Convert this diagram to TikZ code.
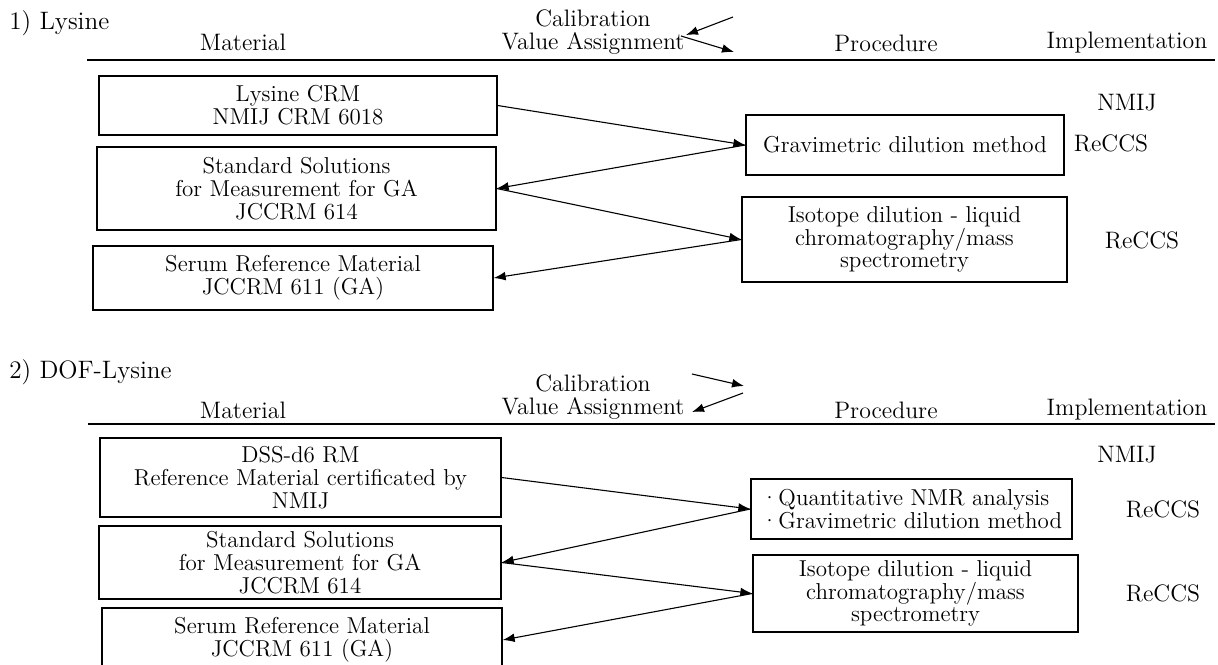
\documentclass[tikz,border=0pt]{standalone}
\usetikzlibrary{arrows.meta}
\begin{document}
\begin{tikzpicture}[x=0.5pt,y=-0.5pt,
  txt/.style={font=\fontsize{11.5}{11.4}\selectfont, inner sep=0pt, align=center},
  head/.style={font=\fontsize{11.9}{11.6}\selectfont, inner sep=0pt, align=center},
  title/.style={font=\fontsize{12.6}{13}\selectfont, inner sep=0pt, anchor=west},
  box/.style 2 args={draw, line width=0.65pt, fill=white, txt, minimum width=#1, minimum height=#2},
  conn/.style={-{Latex[length=6pt,width=4.4pt]}, line width=0.55pt},
  rule/.style={line width=0.65pt}]
\useasboundingbox (0,0) rectangle (1218,664);
\fill[white] (0,0) rectangle (1218,664);

% ---------- Section 1 ----------
\node[title] (t1) at (9,23) {1) Lysine};
\node[head] (m1) at (243,42) {Material};
\node[head] (c1) at (593,32) {Calibration\\Value Assignment};
\node[head] (p1) at (886,43) {Procedure};
\node[head] (im1) at (1127,43) {Implementation};
\draw[rule] (87,60) -- (1215,60);
\coordinate (la1) at (733,17);
\coordinate (la2) at (686,35);
\coordinate (lb1) at (681,36);
\coordinate (lb2) at (734,52);
\draw[conn] (la1) -- (la2);
\draw[conn] (lb1) -- (lb2);

\node[box={199pt}{29.5pt}] (L1) at (298,105.5) {Lysine CRM\\NMIJ CRM 6018};
\node[box={199.5pt}{41.5pt}] (S1) at (296.5,188.5) {Standard Solutions\\for Measurement for GA\\JCCRM 614};
\node[box={200pt}{32pt}] (R1) at (293,278) {Serum Reference Material\\JCCRM 611 (GA)};
\node[box={159pt}{30pt}] (G1) at (905,145) {Gravimetric dilution method};
\node[box={162.5pt}{42.5pt}] (I1) at (904.5,239.5) {Isotope dilution - liquid\\chromatography/mass\\spectrometry};

\node[head] (n1) at (1127,103) {NMIJ};
\node[head] (r1a) at (1111,143) {ReCCS};
\node[head] (r1b) at (1142,240) {ReCCS};

\draw[conn] (L1.east) -- (G1.west);
\draw[conn] (G1.west) -- (S1.east);
\draw[conn] (S1.east) -- (I1.west);
\draw[conn] (I1.west) -- (R1.east);

% ---------- Section 2 ----------
\node[title] (t2) at (9,372) {2) DOF-Lysine};
\node[head] (m2) at (243,410) {Material};
\node[head] (c2) at (593,397) {Calibration\\Value Assignment};
\node[head] (p2) at (886,410) {Procedure};
\node[head] (im2) at (1127,410) {Implementation};
\draw[rule] (88,424) -- (1215,424);
\coordinate (ma1) at (692,374);
\coordinate (ma2) at (744,386);
\coordinate (mb1) at (743,393);
\coordinate (mb2) at (692,412);
\draw[conn] (ma1) -- (ma2);
\draw[conn] (mb1) -- (mb2);

\node[box={200.5pt}{39.5pt}] (D2) at (300.5,477.5) {DSS-d6 RM\\Reference Material certificated by\\NMIJ};
\node[box={201pt}{36.5pt}] (S2) at (300,562.5) {Standard Solutions\\for Measurement for GA\\JCCRM 614};
\node[box={200pt}{32pt}] (R2) at (302,640) {Serum Reference Material\\JCCRM 611 (GA)};
\node[box={160.5pt}{30pt}, align=left] (Q2) at (911.5,509) {·Quantitative NMR analysis\\·Gravimetric dilution method};
\node[box={162.5pt}{38.5pt}] (I2) at (915.5,593.5) {Isotope dilution - liquid\\chromatography/mass\\spectrometry};

\node[head] (n2) at (1127,455) {NMIJ};
\node[head] (r2a) at (1163,509) {ReCCS};
\node[head] (r2b) at (1163,593) {ReCCS};

\draw[conn] (D2.east) -- (Q2.west);
\draw[conn] (Q2.west) -- (S2.east);
\draw[conn] (S2.east) -- (I2.west);
\draw[conn] (I2.west) -- (R2.east);
\end{tikzpicture}
\end{document}
